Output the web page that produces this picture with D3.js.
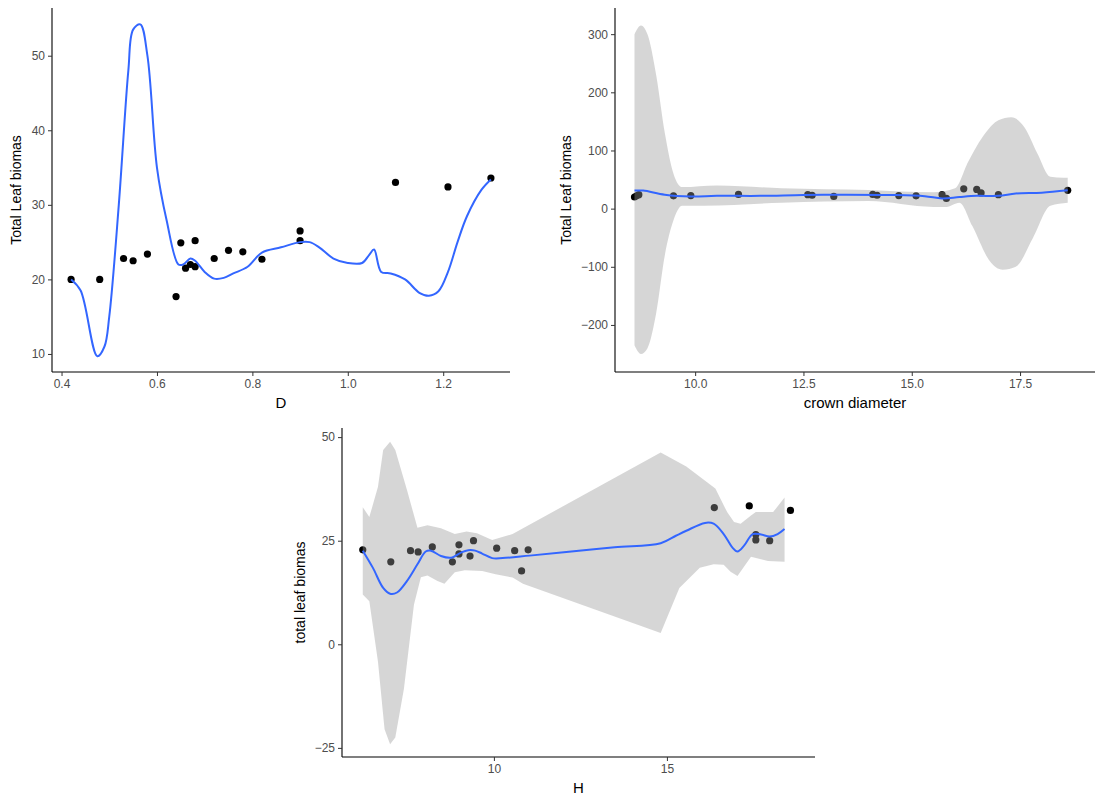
<!DOCTYPE html>
<html><head><meta charset="utf-8">
<script src="https://cdn.jsdelivr.net/npm/d3@7"></script>
<style>
body{margin:0;background:#fff;font-family:"Liberation Sans",Arial,sans-serif}
.tick text{fill:#4d4d4d;font-size:12px;font-family:"Liberation Sans",Arial,sans-serif}
.tick line{stroke:#333}
.domain{stroke:#000}
</style></head><body>
<svg id="c" width="1095" height="799"></svg>
<script>
// Panel 1: D
const dPts = [[0.42,20],[0.48,20],[0.53,22.8],[0.55,22.5],[0.58,23.4],[0.64,17.7],[0.65,24.9],[0.66,21.5],[0.67,22.0],[0.68,21.7],[0.68,25.2],[0.72,22.8],[0.75,23.9],[0.78,23.7],[0.82,22.7],[0.9,26.5],[0.9,25.2],[1.1,33],[1.21,32.4],[1.3,33.6]];
const dLine = [[0.42,20],[0.44,18.5],[0.475,9.7],[0.49,11],[0.5,15],[0.52,30],[0.54,48],[0.55,53.5],[0.565,54.2],[0.58,50],[0.6,35],[0.62,28],[0.645,22],[0.655,22],[0.67,22.8],[0.68,22.5],[0.7,21],[0.72,20.1],[0.74,20.2],[0.76,20.8],[0.79,21.7],[0.82,23.6],[0.86,24.3],[0.9,25],[0.92,25],[0.94,24.3],[0.97,22.8],[1.0,22.2],[1.03,22.2],[1.045,23.3],[1.055,24],[1.07,21],[1.09,20.8],[1.12,20],[1.15,18.2],[1.17,17.8],[1.19,18.4],[1.21,21],[1.23,25],[1.25,28.5],[1.28,32],[1.3,33.4]];

// Panel 2: crown diameter
const cPts = [[8.6,20],[8.65,22],[8.7,24],[9.5,22],[9.9,22.5],[11,24.5],[12.6,24],[12.7,23],[13.2,21],[14.1,24.5],[14.2,23],[14.7,22.5],[15.1,22],[15.7,24],[15.8,17.5],[16.2,34],[16.5,33],[16.6,27],[17.0,24],[18.6,31.5]];
const cLine = [[8.6,31],[8.8,31],[9.3,24],[9.9,21],[10.5,22],[11.5,22],[12.5,23.5],[13.5,24],[14.5,23.5],[15.3,21.5],[15.7,17.5],[16.1,20],[16.5,22],[17.0,22],[17.4,26],[18,27.5],[18.6,31.5]];
const cUpper = [[8.6,300],[8.75,315],[8.9,300],[9.1,230],[9.3,130],[9.5,60],[9.7,37],[10.5,40],[12,35],[14,32],[15.5,28],[16.0,35],[16.3,80],[16.7,130],[17.0,152],[17.3,157],[17.6,140],[17.9,95],[18.2,55],[18.5,53],[18.6,53]];
const cLower = [[8.6,-235],[8.75,-250],[8.9,-240],[9.1,-180],[9.3,-80],[9.5,-20],[9.7,5],[10.2,5],[12,10],[14,13],[15.5,3],[15.8,3],[16.1,10],[16.4,-30],[16.8,-90],[17.1,-105],[17.4,-100],[17.8,-50],[18.2,5],[18.6,10]];

// Panel 3: H
const hPts = [[6.21,22.8],[7.02,19.9],[7.59,22.6],[7.81,22.3],[8.22,23.5],[8.8,19.9],[8.99,24.0],[8.99,21.8],[9.31,21.3],[9.41,25.0],[10.08,23.2],[10.6,22.6],[10.8,17.7],[10.99,22.8],[16.37,33.0],[17.38,33.4],[17.57,26.5],[17.57,25.2],[17.97,25],[18.57,32.3]];
const hLine = [[6.21,22.6],[6.5,18.5],[6.8,13.6],[7.0,12.2],[7.2,12.5],[7.49,15.3],[7.79,19.3],[8.03,22.4],[8.18,22.6],[8.47,21.3],[8.77,20.9],[9.06,22.2],[9.26,22.7],[9.46,22.6],[9.66,21.9],[9.95,20.8],[10.25,20.8],[11.03,21.4],[12.02,22.2],[13.49,23.4],[14.82,24.4],[15.26,26.2],[15.56,27.4],[16.1,29.3],[16.35,29.1],[16.64,26.6],[16.89,23.4],[17.04,22.4],[17.23,23.8],[17.48,26.6],[17.72,26.5],[17.97,26],[18.2,26.6],[18.4,27.8]];
const hUpper = [[6.21,33.1],[6.4,30.7],[6.65,38],[6.8,46.9],[7.0,48.9],[7.15,46.9],[7.49,37.2],[7.79,28.1],[8.08,28.7],[8.47,28],[8.87,26.6],[9.21,27.2],[9.51,26.8],[9.95,25.2],[10.54,26.6],[14.82,46.3],[15.56,42.9],[16.4,37.6],[16.74,31.9],[16.94,29.5],[17.13,29.1],[17.43,31.1],[17.57,31.9],[18.07,31.9],[18.4,35.4]];
const hLower = [[6.21,12],[6.4,10.4],[6.65,-4.2],[6.84,-20.5],[7.0,-24.1],[7.15,-22.5],[7.4,-10.7],[7.69,9.6],[7.89,16.2],[8.08,16.6],[8.37,15.3],[8.57,14.6],[8.87,17.4],[9.16,17.9],[9.66,17.7],[10.05,16.9],[10.54,16.1],[10.84,14.6],[14.82,2.7],[15.36,13.6],[15.95,18.5],[16.35,19.3],[16.64,19.2],[16.84,17.5],[17.04,16.5],[17.43,21.1],[17.92,20.1],[18.4,19.9]];

const svg = d3.select("#c");

function panel(o) {
  const x = d3.scaleLinear().domain(o.xd).range([o.l, o.r]);
  const y = d3.scaleLinear().domain(o.yd).range([o.b, o.t]);
  const g = svg.append("g");

  g.selectAll("circle").data(o.pts).enter().append("circle")
    .attr("cx", d => x(d[0])).attr("cy", d => y(d[1])).attr("r", 3.6).attr("fill", "#000");

  if (o.upper) {
    // ribbon: upper edge left to right, lower edge right to left (x negated so the curve stays monotone)
    const up = d3.line().x(d => x(d[0])).y(d => y(d[1])).curve(o.curve)(o.upper);
    const lower = d3.line().x(d => x(-d[0])).y(d => y(d[1])).curve(o.curve)(o.lower.slice().reverse().map(d => [-d[0], d[1]]));
    g.append("path").attr("d", up + "L" + lower.slice(1) + "Z")
      .attr("fill", "#999").attr("fill-opacity", 0.4);
  }
  g.append("path")
    .attr("d", d3.line().x(d => x(d[0])).y(d => y(d[1])).curve(d3.curveCatmullRom)(o.line))
    .attr("fill", "none").attr("stroke", "#3366FF").attr("stroke-width", 2);

  const xa = g.append("g").attr("transform", `translate(0,${o.b})`)
    .call(d3.axisBottom(x).tickValues(o.xt).tickFormat(o.xf).tickSizeOuter(0).tickSize(4).tickPadding(3));
  const ya = g.append("g").attr("transform", `translate(${o.l},0)`)
    .call(d3.axisLeft(y).tickValues(o.yt).tickFormat(d3.format("d")).tickSizeOuter(0).tickSize(4).tickPadding(3));
  xa.select(".domain").attr("d", `M${o.l},0H${o.r}`);
  ya.select(".domain").attr("d", `M0,${o.t}V${o.b}`);
  [xa, ya].forEach(a => a.selectAll(".domain").attr("stroke-width", 1.1));

  g.append("text").attr("x", (o.l + o.r) / 2).attr("y", o.b + 36)
    .attr("text-anchor", "middle").attr("font-size", 15).text(o.xl);
  g.append("text").attr("transform", `translate(${o.ylx},${(o.t + o.b) / 2}) rotate(-90)`)
    .attr("text-anchor", "middle").attr("font-size", 14).text(o.yl);
}

panel({pts: dPts, line: dLine, xd: [0.38, 1.34], yd: [7.58, 56.4], l: 52, r: 510, t: 8, b: 372,
  xt: [0.4, 0.6, 0.8, 1.0, 1.2], xf: d3.format(".1f"), yt: [10, 20, 30, 40, 50], xl: "D", yl: "Total Leaf biomas", ylx: 21});

panel({pts: cPts, line: cLine, upper: cUpper, lower: cLower, curve: d3.curveMonotoneX, xd: [8.15, 19.23], yd: [-280.9, 345], l: 615, r: 1095, t: 8, b: 372,
  xt: [10, 12.5, 15, 17.5], xf: d3.format(".1f"), yt: [-200, -100, 0, 100, 200, 300], xl: "crown diameter", yl: "Total Leaf biomas", ylx: 571});

panel({pts: hPts, line: hLine, upper: hUpper, lower: hLower, curve: d3.curveLinear, xd: [5.61, 19.28], yd: [-27.2, 52.2], l: 342, r: 815, t: 428, b: 757,
  xt: [10, 15], xf: d3.format("d"), yt: [-25, 0, 25, 50], xl: "H", yl: "total leaf biomas", ylx: 305});
</script>
</body></html>
